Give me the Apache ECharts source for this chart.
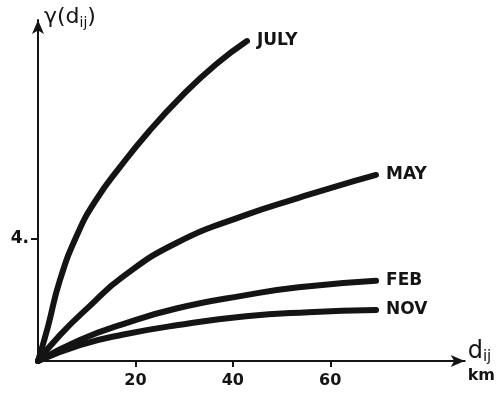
<!DOCTYPE html>
<html>
<head>
<meta charset="utf-8">
<script src="https://cdn.jsdelivr.net/npm/echarts@6/dist/echarts.min.js"></script>
<style>
  html, body { margin: 0; padding: 0; background: #fff; }
  #chart { width: 498px; height: 395px; }
</style>
</head>
<body>
<div id="chart"></div>
<script>
// distance d_ij (km) and variogram value
var julyX = [0, 2, 4.5, 8.2, 12.0, 16.7, 22.9, 29.6, 36.5, 42.9];
var julyY = [0, 1.1, 2.65, 4.2, 5.3, 6.33, 7.55, 8.7, 9.72, 10.49];
var mayX = [0, 4.5, 10.6, 17.3, 28.4, 42.7, 53.5, 60.2, 69.4];
var mayY = [0, 0.85, 1.8, 2.75, 3.87, 4.79, 5.35, 5.68, 6.1];
var febX = [0, 8.6, 17.3, 28.4, 42.7, 53.5, 69.4];
var febY = [0, 0.69, 1.2, 1.72, 2.16, 2.42, 2.63];
var novX = [0, 8.6, 17.3, 28.4, 42.7, 55.5, 69.4];
var novY = [0, 0.52, 0.86, 1.17, 1.47, 1.6, 1.67];

var xTicks = [20, 40, 60];
var yTicks = [4];

function pairs(xs, ys) {
    return xs.map(function (x, i) { return [x, ys[i]]; });
}

function curve(name, xs, ys) {
    return {
        name: name,
        type: 'line',
        data: pairs(xs, ys),
        smooth: 0.5,
        showSymbol: false,
        silent: true,
        lineStyle: { color: '#141414', width: 6, cap: 'round' },
        endLabel: {
            show: true,
            formatter: '{a}',
            distance: 10,
            color: '#141414',
            fontFamily: 'DejaVu Sans',
            fontWeight: 'bold',
            fontSize: 17
        }
    };
}

var chart = echarts.init(document.getElementById('chart'));

chart.setOption({
    animation: false,
    backgroundColor: '#fff',
    grid: { left: 38, right: 31, top: 20, bottom: 34 },
    xAxis: {
        type: 'value',
        min: 0,
        max: 87.6,
        name: '{d|d}{s|ij}\n{k|km}',
        nameLocation: 'end',
        nameGap: 3,
        nameTextStyle: {
            align: 'left',
            verticalAlign: 'top',
            padding: [-22, 0, 0, 0],
            rich: {
                d: { fontFamily: 'DejaVu Sans', fontSize: 24, color: '#141414', lineHeight: 26 },
                s: { fontFamily: 'DejaVu Sans', fontSize: 15, color: '#141414', padding: [10, 0, 0, 0] },
                k: { fontFamily: 'DejaVu Sans', fontWeight: 'bold', fontSize: 16, color: '#141414', lineHeight: 22 }
            }
        },
        splitLine: { show: false },
        axisLine: {
            lineStyle: { color: '#141414', width: 2 },
            symbol: ['none', 'arrow'],
            symbolSize: [9, 14]
        },
        axisTick: {
            show: true,
            customValues: xTicks,
            length: 6,
            lineStyle: { color: '#141414', width: 2 }
        },
        axisLabel: {
            customValues: xTicks,
            margin: 12,
            color: '#141414',
            fontFamily: 'DejaVu Sans',
            fontWeight: 'bold',
            fontSize: 16
        }
    },
    yAxis: {
        type: 'value',
        min: 0,
        max: 11.18,
        name: '{g|γ(d}{s|ij}{g|)}',
        nameLocation: 'end',
        nameGap: -4,
        nameTextStyle: {
            align: 'left',
            padding: [0, 0, -6, 6],
            rich: {
                g: { fontFamily: 'DejaVu Sans', fontSize: 22, color: '#141414' },
                s: { fontFamily: 'DejaVu Sans', fontSize: 14, color: '#141414', padding: [12, 0, 0, 0] }
            }
        },
        splitLine: { show: false },
        axisLine: {
            lineStyle: { color: '#141414', width: 2 },
            symbol: ['none', 'arrow'],
            symbolSize: [9, 14]
        },
        axisTick: {
            show: true,
            customValues: yTicks,
            length: 7,
            lineStyle: { color: '#141414', width: 2 }
        },
        axisLabel: {
            customValues: yTicks,
            formatter: function (v) { return v + '.'; },
            margin: 9,
            color: '#141414',
            fontFamily: 'DejaVu Sans',
            fontWeight: 'bold',
            fontSize: 17
        }
    },
    series: [
        curve('JULY', julyX, julyY),
        curve('MAY', mayX, mayY),
        curve('FEB', febX, febY),
        curve('NOV', novX, novY)
    ]
});
</script>
</body>
</html>
